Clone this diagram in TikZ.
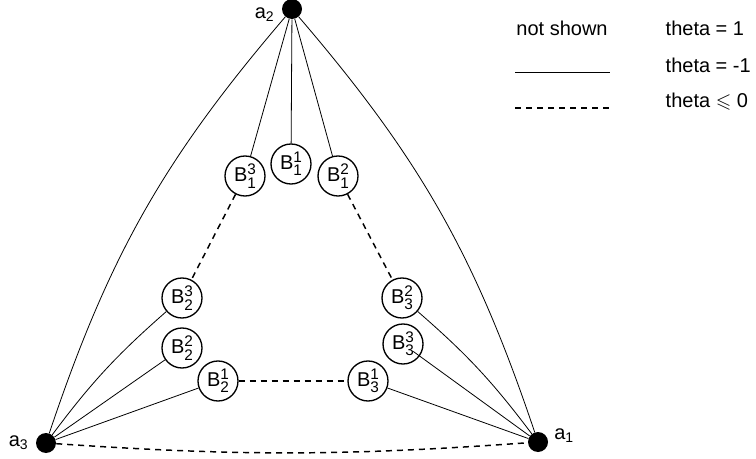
\documentclass[tikz,border=0pt]{standalone}
\usepackage{fontspec}
\setmainfont{Liberation Sans}
\usepackage{amsmath}
\usepackage{amssymb}
\usetikzlibrary{positioning}
\tikzset{
    corner/.style = {circle, fill, inner sep=0pt, minimum size=15pt},
    bnode/.style = {draw, circle, inner sep=0pt, minimum size=30pt, line width=1pt},
    thinline/.style = {draw, line width=0.6pt},
    dline/.style = {draw, line width=1.1pt, dash pattern=on 4.5pt off 3.75pt}
}
\newcommand{\idx}[1]{{\fontsize{11.5}{12}\selectfont #1}}
\newcommand{\Bn}[2]{B\rlap{\raisebox{5pt}{\idx{#1}}}\raisebox{-5pt}{\idx{#2}}}
\newcommand{\an}[1]{a$_{\text{#1}}$}

\begin{document}
\begin{tikzpicture}[x=0.75pt, y=-0.75pt, font=\fontsize{15}{18}\selectfont]
    \useasboundingbox (0,0) rectangle (756,459);
    % corner vertices
    \node [corner] (a2) at (292,9) {};
    \node [corner] (a3) at (46,443) {};
    \node [corner] (a1) at (538,442) {};
    \node [left=2pt of a2, yshift=-4pt] (la2) {\an{2}};
    \node [left=2pt of a3] (la3) {\an{3}};
    \node [right=1pt of a1, yshift=5pt] (la1) {\an{1}};
    % B nodes
    \node [bnode] (B11) at (291,164) {\Bn{1}{1}};
    \node [bnode] (B13) at (245,176) {\Bn{3}{1}};
    \node [bnode] (B12) at (338,176) {\Bn{2}{1}};
    \node [bnode] (B23) at (182,298) {\Bn{3}{2}};
    \node [bnode] (B22) at (182,348) {\Bn{2}{2}};
    \node [bnode] (B21) at (218,381) {\Bn{1}{2}};
    \node [bnode] (B31) at (368,381) {\Bn{1}{3}};
    \node [bnode] (B33) at (403,344) {\Bn{3}{3}};
    \node [bnode] (B32) at (402,298) {\Bn{2}{3}};
    % theta = -1
    \draw [thinline] (a2) -- (B11);
    \draw [thinline] (a2) -- (B13);
    \draw [thinline] (a2) -- (B12);
    \draw [thinline] (a2) to [bend right=11] (a3);
    \draw [thinline] (a2) to [bend left=11] (a1);
    \draw [thinline] (a3) to [bend left=6] (B23);
    \draw [thinline] (a3) -- (B22);
    \draw [thinline] (a3) -- (B21);
    \draw [thinline] (a1) -- (B31);
    \draw [thinline, shorten >=-6pt] (a1) -- (B33);
    \draw [thinline] (a1) to [bend right=6] (B32);
    % theta <= 0
    \draw [dline] (B13) -- (B23);
    \draw [dline] (B12) -- (B32);
    \draw [dline] (B21) -- (B31);
    \draw [dline] (a3) to [bend right=4] (a1);
    % legend
    \node (nshown) at (562,28) {not shown};
    \node [anchor=west] (th1) at (661,28) {theta = 1};
    \node [anchor=west] (th2) at (661,65) {theta = -1};
    \node [anchor=west] (th3) at (661,102) {theta $\leqslant$ 0};
    \coordinate (s0) at (515,72);
    \coordinate (s1) at (610,72);
    \coordinate (d0) at (515,108);
    \coordinate (d1) at (610,108);
    \draw [thinline] (s0) -- (s1);
    \draw [dline] (d0) -- (d1);
\end{tikzpicture}
\end{document}
